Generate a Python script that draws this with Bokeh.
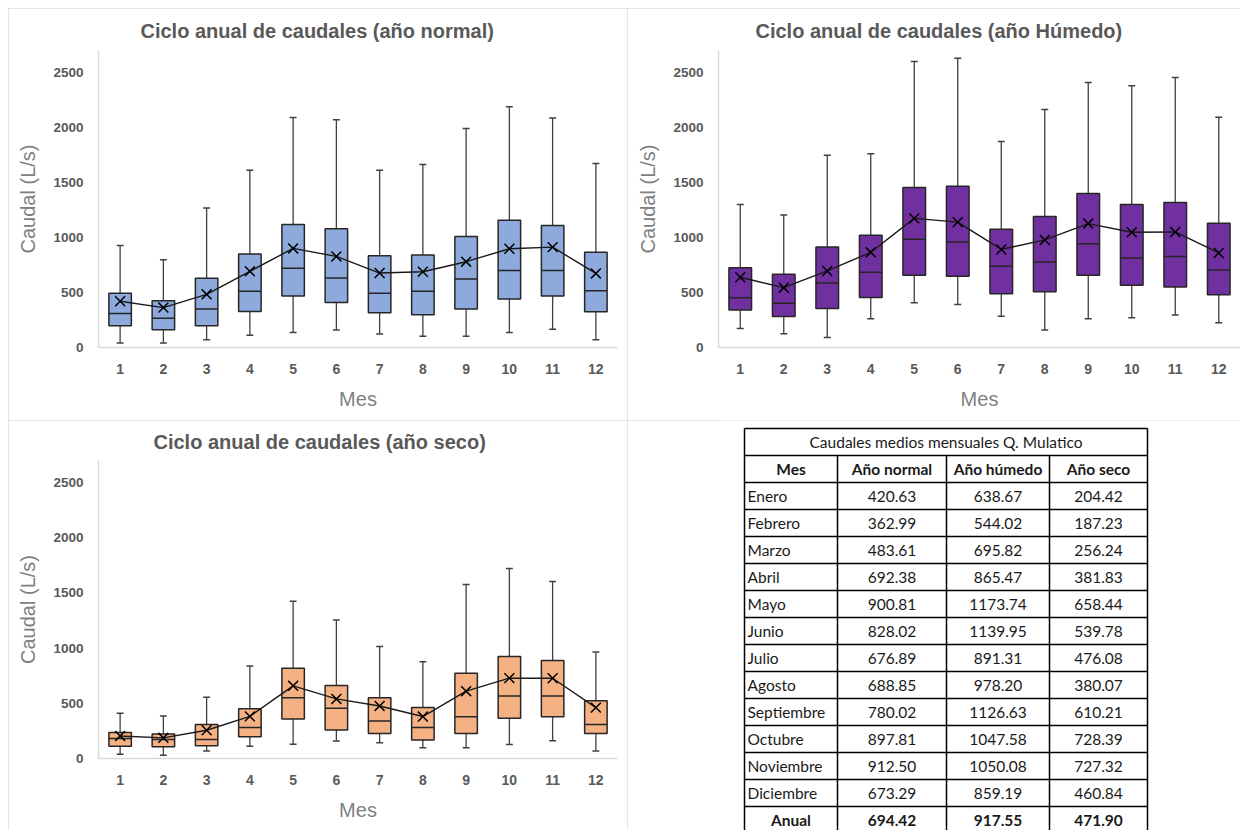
import numpy as np
from bokeh.plotting import figure
from bokeh.layouts import row, column
from bokeh.models import Range1d, FixedTicker
from bokeh.embed import file_html
from bokeh.resources import INLINE
from bokeh.core.properties import value

meses = list(range(1, 13))
y_ticks = [0, 500, 1000, 1500, 2000, 2500]

# Año normal (box statistics)
n_max = [928, 797, 1268, 1612, 2092, 2070, 1612, 1663, 1992, 2189, 2086, 1672]
n_q3 = [493, 426, 630, 851, 1119, 1080, 833, 842, 1010, 1156, 1110, 867]
n_med = [310, 265, 350, 511, 721, 632, 493, 511, 623, 699, 699, 517]
n_q1 = [198, 161, 198, 328, 468, 410, 316, 298, 350, 441, 468, 325]
n_min = [40, 40, 70, 112, 137, 158, 122, 103, 103, 137, 167, 70]

# Año húmedo
h_max = [1300, 1205, 1747, 1762, 2600, 2630, 1873, 2163, 2410, 2379, 2455, 2093]
h_q3 = [725, 665, 913, 1021, 1455, 1467, 1075, 1190, 1401, 1301, 1319, 1129]
h_med = [452, 402, 587, 684, 985, 958, 738, 777, 943, 813, 828, 705]
h_q1 = [340, 282, 355, 455, 657, 648, 488, 506, 657, 566, 551, 479]
h_min = [172, 126, 90, 262, 407, 391, 283, 160, 262, 271, 295, 226]

# Año seco
s_max = [409, 385, 554, 839, 1424, 1254, 1015, 876, 1576, 1721, 1603, 964]
s_q3 = [236, 221, 309, 451, 818, 661, 551, 461, 773, 924, 888, 524]
s_med = [182, 173, 173, 282, 551, 455, 339, 282, 379, 567, 567, 309]
s_q1 = [112, 106, 115, 197, 358, 258, 227, 167, 227, 364, 379, 227]
s_min = [39, 30, 67, 112, 130, 158, 142, 97, 97, 127, 161, 67]

# Table: Caudales medios mensuales
nombres = ["Enero", "Febrero", "Marzo", "Abril", "Mayo", "Junio", "Julio",
           "Agosto", "Septiembre", "Octubre", "Noviembre", "Diciembre"]
media_normal = [420.63, 362.99, 483.61, 692.38, 900.81, 828.02, 676.89, 688.85, 780.02, 897.81, 912.50, 673.29]
media_humedo = [638.67, 544.02, 695.82, 865.47, 1173.74, 1139.95, 891.31, 978.20, 1126.63, 1047.58, 1050.08, 859.19]
media_seco = [204.42, 187.23, 256.24, 381.83, 658.44, 539.78, 476.08, 380.07, 610.21, 728.39, 727.32, 460.84]
anual = [694.42, 917.55, 471.90]
encabezados = ["Mes", "Año normal", "Año húmedo", "Año seco"]
titulo_tabla = "Caudales medios mensuales Q. Mulatico"

FONT = "Liberation Sans"
BORDER = {"outline": "1px solid #dcdcdc", "outline-offset": "-1px"}


def chart(title, fill, qmax, q3, med, q1, qmin, mean, width, height,
          bl, br, bt, bb, toff, tstand):
    p = figure(width=width, height=height, x_range=Range1d(0.5, 12.5),
               y_range=Range1d(0, 2700), output_backend="svg",
               toolbar_location=None, min_border_left=bl, min_border_right=br,
               min_border_top=bt, min_border_bottom=bb)
    p.title.text = title
    p.title.align = "left"
    p.title.offset = toff
    p.title.text_font = FONT
    p.title.text_font_size = "20px"
    p.title.text_font_style = "bold"
    p.title.text_color = "#595959"
    p.title.standoff = tstand
    p.outline_line_color = None
    p.xgrid.visible = False
    p.ygrid.visible = False
    p.xaxis.ticker = FixedTicker(ticks=meses)
    p.yaxis.ticker = FixedTicker(ticks=y_ticks)
    for ax in (p.xaxis[0], p.yaxis[0]):
        ax.axis_line_color = "#d9d9d9"
        ax.axis_line_width = 1.5
        ax.major_tick_line_color = None
        ax.minor_tick_line_color = None
        ax.major_label_text_font = FONT
        ax.major_label_text_font_style = "bold"
        ax.major_label_text_color = "#595959"
        ax.axis_label_text_font = FONT
        ax.axis_label_text_font_style = "normal"
        ax.axis_label_text_font_size = "20px"
        ax.axis_label_text_color = "#808080"
    p.xaxis.major_label_text_font_size = "14px"
    p.yaxis.major_label_text_font_size = "13.5px"
    p.xaxis.major_label_standoff = 10
    p.yaxis.major_label_standoff = 9
    p.xaxis.axis_label = "Mes"
    p.yaxis.axis_label = "Caudal (L/s)"
    p.xaxis.axis_label_standoff = 11
    p.yaxis.axis_label_standoff = 11

    x = np.array(meses, dtype=float)
    wc = "#404040"
    p.segment(x, q3, x, qmax, line_color=wc, line_width=1.3)
    p.segment(x, q1, x, qmin, line_color=wc, line_width=1.3)
    p.segment(x - 0.08, qmax, x + 0.08, qmax, line_color=wc, line_width=1.5)
    p.segment(x - 0.08, qmin, x + 0.08, qmin, line_color=wc, line_width=1.5)
    p.vbar(x=x, width=0.52, top=q3, bottom=q1, fill_color=fill,
           line_color="#262626", line_width=1.5)
    p.segment(x - 0.26, med, x + 0.26, med, line_color="#262626", line_width=1.5)
    p.line(x, mean, line_color="#1a1a1a", line_width=1.4)
    p.scatter(x, mean, marker="x", size=14, line_color="#000000", line_width=1.5)
    p.styles = BORDER
    return p


fa = chart("Ciclo anual de caudales (año normal)", "#8EA9DB",
           n_max, n_q3, n_med, n_q1, n_min, media_normal,
           619, 412, 90, 10, 42, 73, 42, 18)
fb = chart("Ciclo anual de caudales (año Húmedo)", "#7030A0",
           h_max, h_q3, h_med, h_q1, h_min, media_humedo,
           613, 412, 91, 0, 42, 73, 37, 18)
fc = chart("Ciclo anual de caudales (año seco)", "#F4B183",
           s_max, s_q3, s_med, s_q1, s_min, media_seco,
           619, 410, 90, 10, 40, 72, 55, 16)

# ---- table figure (data units = canvas pixels) ----
TW, TH = 613, 410
TL = 91
fd = figure(width=TW, height=TH, x_range=Range1d(TL, TW), y_range=Range1d(TH, 0),
            output_backend="svg", toolbar_location=None,
            min_border_left=TL, min_border_right=0, min_border_top=0, min_border_bottom=0,
            title=None, x_axis_location=None, y_axis_location=None)
fd.xgrid.visible = False
fd.ygrid.visible = False
fd.outline_line_color = None
fd.styles = BORDER

col_w = [93, 109, 103, 98]
left = 117
top = 8
rh = 27
edges = [left]
for w in col_w:
    edges.append(edges[-1] + w)
nrows = 2 + len(nombres) + 1
row_tops = [top + i * rh for i in range(nrows + 1)]
bottom = row_tops[-1]

# horizontal lines
fd.segment([edges[0]] * len(row_tops), row_tops, [edges[-1]] * len(row_tops), row_tops,
           line_color="#000000", line_width=1.5)
# outer vertical lines
fd.segment([edges[0], edges[-1]], [top, top], [edges[0], edges[-1]], [bottom, bottom],
           line_color="#000000", line_width=1.5)
# inner vertical lines (below title row)
inner = edges[1:-1]
fd.segment(inner, [row_tops[1]] * len(inner), inner, [bottom] * len(inner),
           line_color="#000000", line_width=1.5)

centers = [(edges[i] + edges[i + 1]) / 2 for i in range(4)]
mid = [(row_tops[i] + row_tops[i + 1]) / 2 for i in range(nrows)]
TF = value("Lato")
TS = "15.5px"
TC = "#1a1a1a"

fd.text(x=[(edges[0] + edges[-1]) / 2], y=[mid[0]], text=[titulo_tabla],
        text_font=TF, text_font_size="15.5px", text_align="center",
        text_baseline="middle", text_color=TC)
fd.text(x=centers, y=[mid[1]] * 4, text=encabezados, text_font=TF,
        text_font_size=TS, text_font_style="bold", text_align="center",
        text_baseline="middle", text_color=TC)
month_y = mid[2:2 + len(nombres)]
fd.text(x=[edges[0] + 3] * len(nombres), y=month_y, text=nombres, text_font=TF,
        text_font_size=TS, text_align="left", text_baseline="middle", text_color=TC)
for j, serie in enumerate([media_normal, media_humedo, media_seco]):
    fd.text(x=[centers[j + 1]] * len(serie), y=month_y,
            text=["%.2f" % v for v in serie], text_font=TF, text_font_size=TS,
            text_align="center", text_baseline="middle", text_color=TC)
fd.text(x=centers, y=[mid[-1]] * 4, text=["Anual"] + ["%.2f" % v for v in anual],
        text_font=TF, text_font_size=TS, text_font_style="bold",
        text_align="center", text_baseline="middle", text_color=TC)

layout = row(column(fa, fc), column(fb, fd), margin=(8, 0, 0, 8))
open("out.html", "w").write(file_html(layout, INLINE))
